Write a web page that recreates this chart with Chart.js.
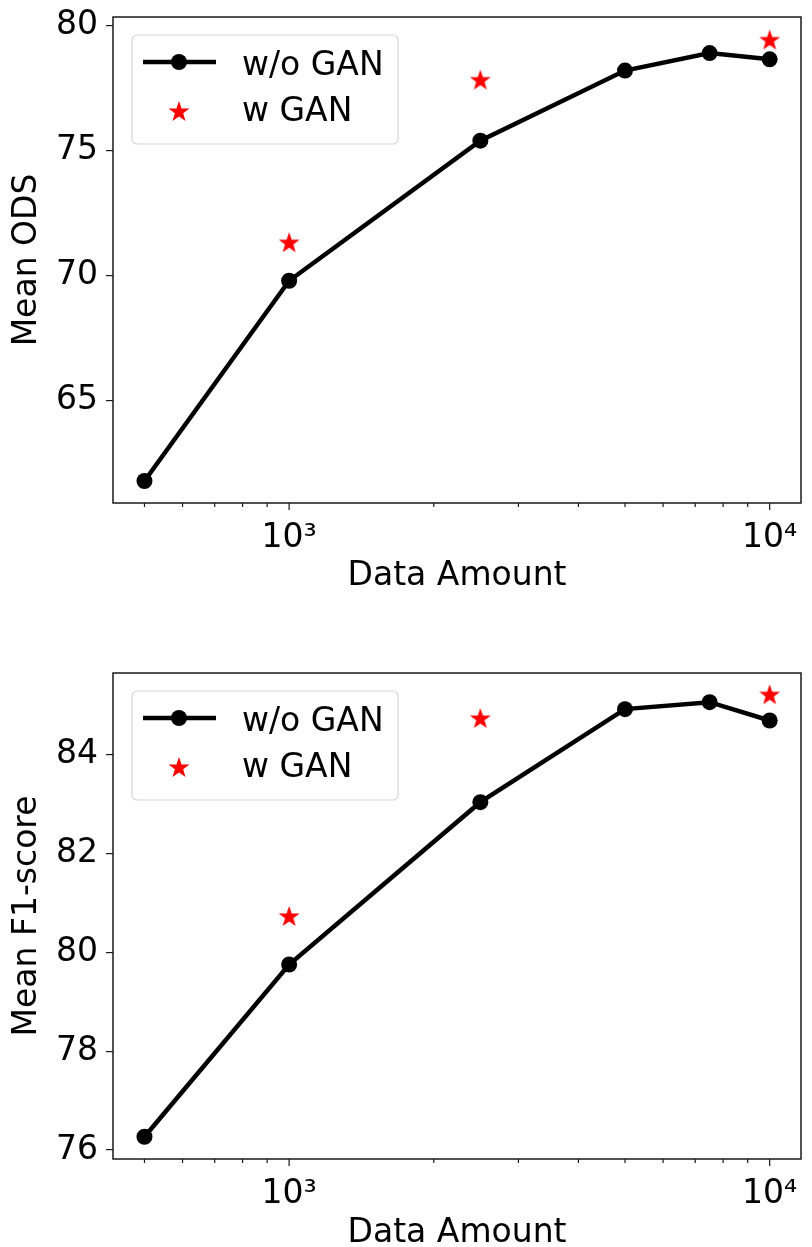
<!DOCTYPE html>
<html>
<head>
<meta charset="utf-8">
<script src="https://cdn.jsdelivr.net/npm/chart.js@4.4.0/dist/chart.umd.min.js"></script>
<style>
html, body { margin: 0; padding: 0; background: #fff; overflow: hidden; }
#wrap { position: relative; width: 812px; height: 1247px; }
canvas { position: absolute; left: 0; }
</style>
</head>
<body>
<div id="wrap">
  <canvas id="odsChart" width="812" height="610" style="top:0"></canvas>
  <canvas id="f1Chart" width="812" height="650" style="top:610px"></canvas>
</div>
<script>
// data
const dataAmount = [500, 1000, 2500, 5000, 7500, 10000];
const ganAmount = [1000, 2500, 10000];

const odsNoGan = [61.8, 69.8, 75.4, 78.2, 78.9, 78.65];
const odsGan = [71.3, 77.8, 79.4];

const f1NoGan = [76.27, 79.75, 83.03, 84.91, 85.05, 84.68];
const f1Gan = [80.71, 84.71, 85.19];

// tick positions / labels
const xTicks = [500, 600, 700, 800, 900, 1000, 2000, 3000, 4000, 5000, 6000, 7000, 8000, 9000, 10000];
const xTickLabels = { 1000: '10³', 10000: '10⁴' };
const odsTicks = [65, 70, 75, 80];
const f1Ticks = [76, 78, 80, 82, 84];

const FONT = "'DejaVu Sans', sans-serif";

// filled 5 point star like matplotlib '*'
function makeStar(r, color) {
  const s = Math.ceil(r * 2) + 2;
  const c = document.createElement('canvas');
  c.width = s; c.height = s;
  const ctx = c.getContext('2d');
  ctx.beginPath();
  for (let i = 0; i < 10; i++) {
    const rad = i % 2 === 0 ? r : r * 0.4;
    const a = -Math.PI / 2 + i * Math.PI / 5;
    ctx.lineTo(s / 2 + rad * Math.cos(a), s / 2 + rad * Math.sin(a));
  }
  ctx.closePath();
  ctx.fillStyle = color;
  ctx.fill();
  return c;
}
const starImg = makeStar(11, '#ff0000');

// box around plot + x tick marks (major/minor)
const framePlugin = {
  id: 'frame',
  afterDraw(chart) {
    const ctx = chart.ctx;
    const a = chart.chartArea;
    const xs = chart.scales.x;
    ctx.save();
    ctx.strokeStyle = '#1a1a1a';
    ctx.lineWidth = 1.5;
    ctx.strokeRect(a.left, a.top, a.right - a.left, a.bottom - a.top);
    ctx.lineWidth = 1.2;
    xTicks.forEach(v => {
      const px = xs.getPixelForValue(v);
      const len = xTickLabels[v] ? 7 : 4;
      ctx.beginPath();
      ctx.moveTo(px, a.bottom);
      ctx.lineTo(px, a.bottom + len);
      ctx.stroke();
    });
    ctx.restore();
  }
};

// matplotlib style legend box in the upper left
const boxLegend = {
  id: 'boxLegend',
  afterDraw(chart) {
    const ctx = chart.ctx;
    const a = chart.chartArea;
    const bx = a.left + 19, by = a.top + 18, bw = 266, bh = 109;
    ctx.save();
    ctx.beginPath();
    ctx.roundRect(bx, by, bw, bh, 5);
    ctx.fillStyle = 'rgba(255,255,255,0.8)';
    ctx.fill();
    ctx.strokeStyle = '#d6d6d6';
    ctx.lineWidth = 1.2;
    ctx.stroke();

    const ds = chart.data.datasets;
    // line entry
    ctx.strokeStyle = ds[0].borderColor;
    ctx.lineWidth = ds[0].borderWidth;
    ctx.beginPath();
    ctx.moveTo(bx + 11, by + 27);
    ctx.lineTo(bx + 84, by + 27);
    ctx.stroke();
    ctx.fillStyle = ds[0].pointBackgroundColor;
    ctx.beginPath();
    ctx.arc(bx + 47, by + 27, ds[0].pointRadius, 0, Math.PI * 2);
    ctx.fill();
    // star entry
    ctx.drawImage(starImg, bx + 47 - starImg.width / 2, by + 77 - starImg.height / 2);

    ctx.fillStyle = '#000';
    ctx.font = '33px ' + FONT;
    ctx.textBaseline = 'alphabetic';
    ctx.textAlign = 'left';
    ctx.fillText(ds[0].label, bx + 110, by + 40);
    ctx.fillText(ds[1].label, bx + 110, by + 86);
    ctx.restore();
  }
};

function makeChart(id, noGan, gan, yMin, yMax, yTicks, yTitle, padTop, xHeight, xTitlePad) {
  return new Chart(document.getElementById(id), {
    type: 'line',
    data: {
      datasets: [{
        label: 'w/o GAN',
        data: dataAmount.map((x, i) => ({ x: x, y: noGan[i] })),
        borderColor: '#000',
        borderWidth: 4.5,
        pointRadius: 8,
        pointBackgroundColor: '#000',
        pointBorderWidth: 0,
        tension: 0
      }, {
        label: 'w GAN',
        data: ganAmount.map((x, i) => ({ x: x, y: gan[i] })),
        showLine: false,
        pointStyle: starImg,
        pointRadius: 10
      }]
    },
    options: {
      responsive: false,
      animation: false,
      devicePixelRatio: 1,
      layout: { padding: { top: padTop, right: 4, left: 0, bottom: 0 } },
      plugins: { legend: { display: false }, tooltip: { enabled: false } },
      scales: {
        x: {
          type: 'logarithmic',
          min: 430,
          max: 11620,
          afterBuildTicks: s => { s.ticks = xTicks.map(v => ({ value: v })); },
          afterFit: s => { s.height = xHeight; s.paddingLeft = 0; s.paddingRight = 0; },
          grid: { display: false },
          border: { display: false },
          ticks: {
            autoSkip: false,
            maxRotation: 0,
            padding: 8,
            color: '#000',
            font: { family: FONT, size: 33 },
            callback: v => xTickLabels[v] || ''
          },
          title: {
            display: true,
            text: 'Data Amount',
            color: '#000',
            font: { family: FONT, size: 33 },
            padding: { top: 0, bottom: xTitlePad }
          }
        },
        y: {
          min: yMin,
          max: yMax,
          afterBuildTicks: s => { s.ticks = yTicks.map(v => ({ value: v })); },
          afterFit: s => { s.width = 113; s.paddingTop = 0; s.paddingBottom = 0; },
          grid: { drawOnChartArea: false, drawTicks: true, tickLength: 7, tickColor: '#1a1a1a', lineWidth: 1.2 },
          border: { display: false },
          ticks: {
            padding: 8,
            color: '#000',
            font: { family: FONT, size: 33 }
          },
          title: {
            display: true,
            text: yTitle,
            color: '#000',
            font: { family: FONT, size: 33 },
            padding: { top: 8, bottom: 0 }
          }
        }
      }
    },
    plugins: [framePlugin, boxLegend]
  });
}

makeChart('odsChart', odsNoGan, odsGan, 60.92, 80.34, odsTicks, 'Mean ODS', 17, 107, 14);
makeChart('f1Chart', f1NoGan, f1Gan, 75.82, 85.64, f1Ticks, 'Mean F1-score', 63, 101, 7);
</script>
</body>
</html>
